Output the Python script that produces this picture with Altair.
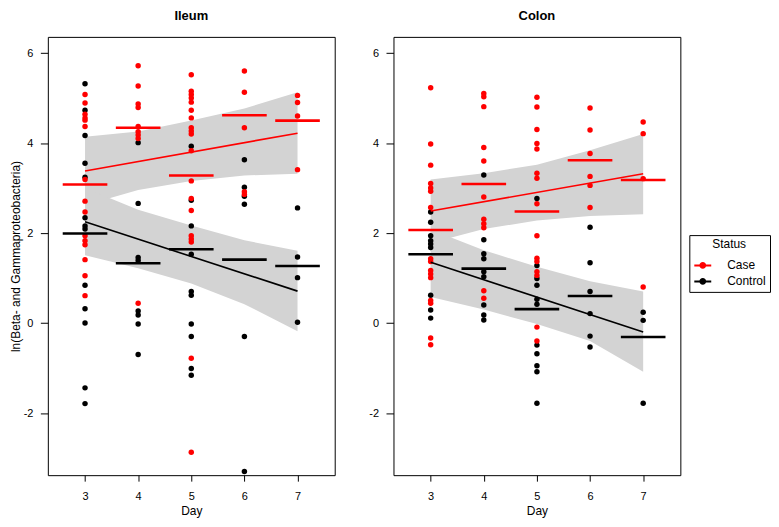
import altair as alt
import pandas as pd

DAYS = [3, 4, 5, 6, 7]
FIT_DAYS = [3, 7]
STATUS = ["Case", "Control"]
COLORS = ["#ff0000", "#000000"]
BAND_COLOR = "#d3d3d3"

# ---------------- Ileum ----------------
ileum_case_pts = {
    3: [5.08, 4.89, 4.64, 4.56, 4.51, 4.37, 3.19, 2.71, 2.47, 1.94, 1.83, 1.74, 1.41, 1.05, 0.61],
    4: [5.72, 5.27, 4.87, 4.79, 4.37, 4.25, 4.18, 4.10, 0.44],
    5: [5.52, 5.15, 5.08, 5.00, 4.91, 4.73, 4.56, 4.34, 4.27, 4.20, 3.83, 3.16, 2.77, 2.50,
        1.94, 1.87, 1.80, -0.78, -2.87],
    6: [5.60, 5.13, 4.34, 2.92, 2.86],
    7: [5.06, 4.90, 4.60, 3.41],
}
ileum_control_pts = {
    3: [5.32, 4.73, 4.17, 3.55, 3.24, 2.34, 2.16, 2.09, 0.84, 0.32, 0.00, -1.44, -1.79],
    4: [4.01, 2.66, 1.46, 1.39, 0.27, 0.18, -0.02, -0.70],
    5: [3.93, 2.73, 2.16, 1.53, 0.70, 0.62, -0.02, -0.30, -1.01, -1.16],
    6: [3.63, 3.02, 2.82, 2.64, -0.30, -3.30],
    7: [2.56, 1.47, 1.01, 0.02],
}
ileum_case_mean = [3.08, 4.34, 3.28, 4.62, 4.50]
ileum_control_mean = [1.99, 1.33, 1.64, 1.41, 1.27]
ileum_case_fit = [3.38, 4.22]
ileum_control_fit = [2.25, 0.71]
ileum_case_lo = [2.62, 2.96, 3.16, 3.28, 3.32]
ileum_case_hi = [4.14, 4.26, 4.50, 4.77, 5.13]
ileum_control_lo = [1.51, 1.22, 0.88, 0.42, -0.18]
ileum_control_hi = [3.00, 2.52, 2.17, 1.84, 1.61]

# ---------------- Colon ----------------
colon_case_pts = {
    3: [5.23, 3.98, 3.51, 3.10, 3.00, 2.93, 2.57, 1.43, 1.37, 1.17, 1.09, 1.01, 0.50, 0.44, -0.33, -0.48],
    4: [5.10, 5.03, 4.81, 3.90, 3.60, 2.80, 2.31, 2.21, 2.12, 0.72, 0.55],
    5: [5.02, 4.80, 4.30, 3.99, 3.87, 3.33, 3.22, 2.65, 1.94, 1.44, 1.37, 1.14, 1.06, -0.09, -0.40],
    6: [4.78, 4.29, 3.77, 3.26, 3.06, 2.57],
    7: [4.47, 4.21, 3.21, 0.80],
}
colon_control_pts = {
    3: [2.47, 2.24, 1.94, 1.83, 1.76, 1.68, 0.62, 0.29, 0.11],
    4: [3.29, 1.85, 1.54, 1.43, 1.14, 1.03, 0.40, 0.18, 0.07],
    5: [2.77, 1.28, 0.99, 0.84, 0.53, 0.42, -0.49, -0.68, -0.95, -1.08, -1.78],
    6: [2.13, 1.34, 0.70, 0.21, -0.29, -0.53],
    7: [0.24, 0.06, -1.78],
}
colon_case_mean = [2.07, 3.09, 2.48, 3.62, 3.18]
colon_control_mean = [1.53, 1.21, 0.31, 0.60, -0.31]
colon_case_fit = [2.49, 3.32]
colon_control_fit = [1.35, -0.20]
colon_case_lo = [1.78, 2.09, 2.28, 2.38, 2.42]
colon_case_hi = [3.19, 3.33, 3.52, 3.84, 4.20]
colon_control_lo = [0.58, 0.30, -0.02, -0.40, -1.08]
colon_control_hi = [2.08, 1.62, 1.25, 0.93, 0.70]

Y_TITLE = "ln(Beta- and Gammaproteobacteria)"
FONT = "Liberation Sans"


def tables(case_pts, ctrl_pts, case_mean, ctrl_mean, case_fit, ctrl_fit,
           case_lo, case_hi, ctrl_lo, ctrl_hi):
    pts = []
    for status, d in (("Control", ctrl_pts), ("Case", case_pts)):
        for day, vals in d.items():
            for v in vals:
                pts.append({"Day": day, "value": v, "Status": status})
    means = []
    for status, arr in (("Case", case_mean), ("Control", ctrl_mean)):
        for day, v in zip(DAYS, arr):
            means.append({"Day": day, "value": v, "Status": status})
    fits = []
    for status, arr in (("Case", case_fit), ("Control", ctrl_fit)):
        for day, v in zip(FIT_DAYS, arr):
            fits.append({"Day": day, "value": v, "Status": status})
    bands = []
    for status, lo, hi in (("Case", case_lo, case_hi), ("Control", ctrl_lo, ctrl_hi)):
        for day, a, b in zip(DAYS, lo, hi):
            bands.append({"Day": day, "lo": a, "hi": b, "Status": status})
    return (pd.DataFrame(pts), pd.DataFrame(means), pd.DataFrame(fits), pd.DataFrame(bands))


legend = alt.Legend(
    title="Status",
    orient="none",
    legendX=644,
    legendY=199,
    symbolType="M-1,0L1,0M-0.28,0A0.28,0.28 0 1,0 0.28,0A0.28,0.28 0 1,0 -0.28,0Z",
    symbolSize=289,
    symbolStrokeWidth=2,
    symbolOpacity=1,
    strokeColor="black",
    padding=4,
    labelOffset=15,
    titleAnchor="middle",
    titleFontWeight="normal",
    titleFontSize=12,
    labelFontSize=12,
    titleFont=FONT,
    labelFont=FONT,
    titleColor="black",
    labelColor="black",
    titlePadding=5,
    rowPadding=0,
)

x_scale = alt.Scale(domain=[2.3, 7.7], nice=False, zero=False)
y_scale = alt.Scale(domain=[-3.38, 6.36], nice=False, zero=False)
status_scale = alt.Scale(domain=STATUS, range=COLORS)


def panel(title, data, show_ytitle):
    pts, means, fits, bands = data
    x_axis = alt.Axis(values=DAYS, title="Day", tickSize=6, labelPadding=9,
                      titlePadding=4, domain=False, grid=False, labelFontSize=11,
                      titleFontSize=12, titleFontWeight="normal", labelFont=FONT,
                      titleFont=FONT, labelColor="black", titleColor="black",
                      tickColor="black", labelExpr="'' + datum.value")
    y_axis = alt.Axis(values=[-2, 0, 2, 4, 6], tickSize=7.5, labelPadding=7.5,
                      domain=False, grid=False, labelFontSize=11, titleFontSize=12,
                      titleFontWeight="normal", labelFont=FONT, titleFont=FONT,
                      labelColor="black", titleColor="black", tickColor="black",
                      titlePadding=1, labelExpr="'' + datum.value",
                      title=Y_TITLE if show_ytitle else "")

    band = alt.Chart(bands).mark_area(color=BAND_COLOR, opacity=1).encode(
        x=alt.X("Day:Q", scale=x_scale, axis=x_axis),
        y=alt.Y("lo:Q", scale=y_scale, axis=y_axis),
        y2="hi:Q",
        detail="Status:N",
    )
    dots = alt.Chart(pts).mark_circle(size=30, opacity=1).encode(
        x="Day:Q",
        y="value:Q",
        fill=alt.Fill("Status:N", scale=status_scale, legend=legend),
    )
    lines = alt.Chart(fits).mark_line(strokeWidth=1.6).encode(
        x="Day:Q",
        y="value:Q",
        stroke=alt.Stroke("Status:N", scale=status_scale, legend=legend),
    )
    bars = alt.Chart(means).transform_calculate(
        x1="datum.Day - 0.42", x2="datum.Day + 0.42"
    ).mark_rule(strokeWidth=2.6).encode(
        x="x1:Q",
        x2="x2:Q",
        y="value:Q",
        stroke=alt.Stroke("Status:N", scale=status_scale, legend=legend),
    )
    return alt.layer(band, dots, lines, bars).properties(
        width=288, height=440,
        title=alt.TitleParams(title, fontSize=13, fontWeight="bold", font=FONT,
                              anchor="middle", offset=14, color="black"),
    )


ileum = panel("Ileum", tables(ileum_case_pts, ileum_control_pts, ileum_case_mean,
                              ileum_control_mean, ileum_case_fit, ileum_control_fit,
                              ileum_case_lo, ileum_case_hi, ileum_control_lo,
                              ileum_control_hi), True)
colon = panel("Colon", tables(colon_case_pts, colon_control_pts, colon_case_mean,
                              colon_control_mean, colon_case_fit, colon_control_fit,
                              colon_case_lo, colon_case_hi, colon_control_lo,
                              colon_control_hi), False)

chart = alt.hconcat(ileum, colon, spacing=59, bounds="flush").properties(
    padding={"left": 0, "top": 0, "right": 0, "bottom": 0},
).configure_view(stroke="black", strokeWidth=1)

chart.save("out.html", embed_options={"renderer": "svg", "actions": False})
